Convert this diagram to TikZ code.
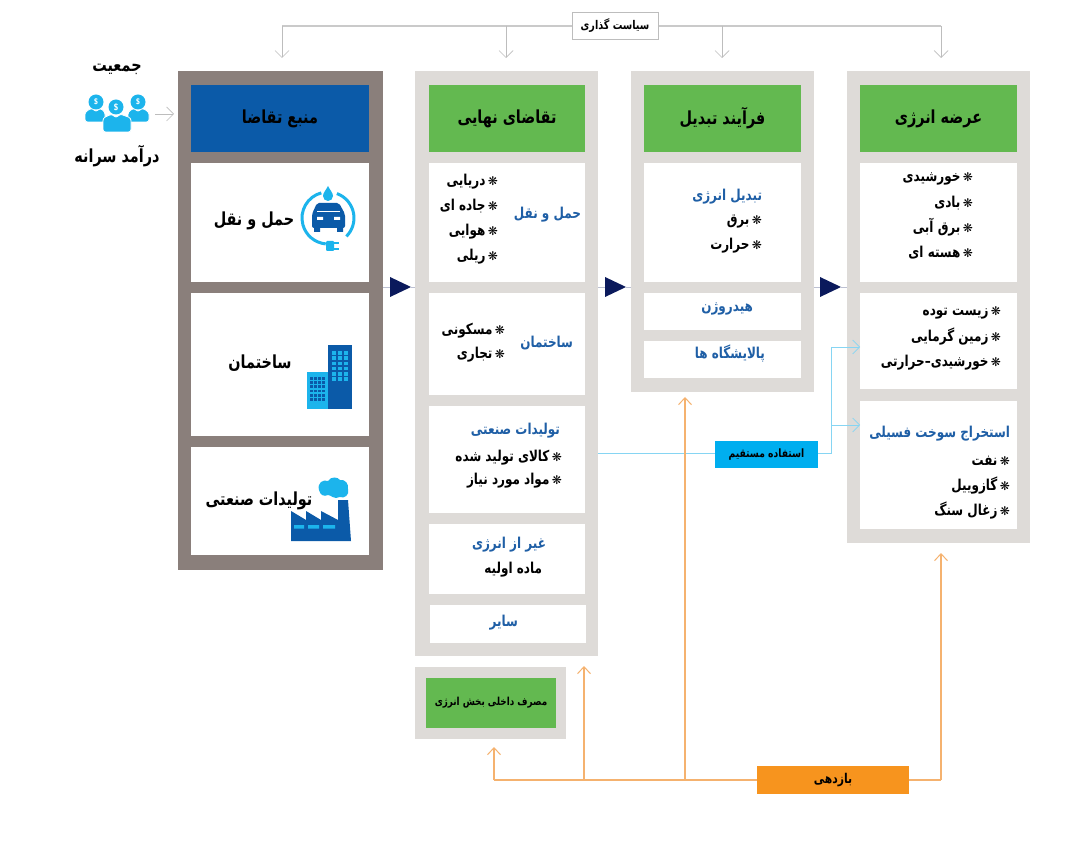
\documentclass[tikz,border=0pt]{standalone}
\usepackage{fontspec}
\usetikzlibrary{arrows.meta,shapes.geometric,calc}
\TeXXeTstate=1
\newfontfamily\arabicfont[Script=Arabic,FakeStretch=0.8]{DejaVu Sans}
\newfontfamily\bulfont{DejaVu Sans}
\definecolor{panelg}{HTML}{DEDBD8}
\definecolor{panelb}{HTML}{8A7F7B}
\definecolor{greenh}{HTML}{63B950}
\definecolor{blueh}{HTML}{0B5AA8}
\definecolor{cyanic}{HTML}{1CB4EC}
\definecolor{bluet}{HTML}{1F5FA6}
\definecolor{bulc}{HTML}{7FB0E0}
\definecolor{orangeb}{HTML}{F7941E}
\definecolor{orangel}{HTML}{F5B26F}
\definecolor{cyanl}{HTML}{86D5F3}
\definecolor{greyl}{HTML}{BDBDBD}
\definecolor{navytri}{HTML}{0B1A5C}
\definecolor{flowl}{HTML}{BCC0D2}
\definecolor{cyanb}{HTML}{00AEEF}
\newcommand\bul{{\bulfont\mdseries\color{bulc}\fontsize{12}{12}\selectfont ❋}\,}
\newcommand\rbox[7]{\node[rct,#2,minimum width={#5pt-#3pt},minimum height={#6pt-#4pt}] (#1) at ({(#3+#5)/2},{(#4+#6)/2}) {#7};}
\newcommand\tline[4]{\node[txt,#3] (#1) at #2 {#4};}
\tikzset{
  rct/.style={inner sep=0pt,outer sep=0pt,align=center},
  txt/.style={inner sep=0pt,outer sep=0pt,anchor=base east,font=\arabicfont\bfseries\fontsize{15}{17}\selectfont,text=black},
  bluetxt/.style={text=bluet},
  head/.style={font=\arabicfont\bfseries\fontsize{18}{20}\selectfont,text=black},
  small/.style={font=\arabicfont\bfseries\fontsize{12}{14}\selectfont,text=black},
  tri/.style={isosceles triangle,isosceles triangle stretches,fill=navytri,minimum width=20pt,minimum height=21pt,inner sep=0pt,outer sep=0pt,anchor=apex},
  policy/.style={draw=greyl,line width=.9pt,-{Straight Barb[length=7pt,width=14pt,line width=.7pt]}},
  policyl/.style={draw=greyl!80,line width=1.2pt},
  eff/.style={draw=orangel,line width=1.1pt},
  effa/.style={eff,-{Straight Barb[length=7pt,width=13pt,line width=1pt]}},
  dir/.style={draw=cyanl,line width=.9pt},
  dira/.style={dir,-{Straight Barb[length=7pt,width=14pt,line width=.7pt]}},
  flow/.style={draw=flowl,line width=.8pt},
}
\begin{document}
\begin{tikzpicture}[x=1pt,y=-1pt]
\useasboundingbox (0,0) rectangle (1080,842);
\fill[white] (0,0) rectangle (1080,842);
% panels
\rbox{p1}{fill=panelb}{178}{71}{383}{570}{}
\rbox{p2}{fill=panelg}{415}{71}{598}{656}{}
\rbox{p3}{fill=panelg}{631}{71}{814}{392}{}
\rbox{p4}{fill=panelg}{847}{71}{1030}{543}{}
\rbox{p5}{fill=panelg}{415}{667}{566}{739}{}
% headers
\rbox{h1}{fill=blueh,head}{191}{85}{369}{152}{\raisebox{3pt}{\beginR منبع تقاضا\endR}}
\rbox{h2}{fill=greenh,head}{429}{85}{585}{152}{\beginR تقاضای نهایی\endR}
\rbox{h3}{fill=greenh,head}{644}{85}{801}{152}{\raisebox{1pt}{\beginR فرآیند تبدیل\endR}}
\rbox{h4}{fill=greenh,head}{860}{85}{1017}{152}{\raisebox{3pt}{\beginR عرضه انرژی\endR}}
\rbox{h5}{fill=greenh,small,font=\arabicfont\bfseries\fontsize{11}{13}\selectfont}{426}{678}{556}{728}{\beginR مصرف داخلی بخش انرژی\endR}
% cells
\rbox{c11}{fill=white}{191}{163}{369}{282}{}
\rbox{c12}{fill=white}{191}{293}{369}{436}{}
\rbox{c13}{fill=white}{191}{447}{369}{555}{}
\rbox{c21}{fill=white}{429}{163}{585}{282}{}
\rbox{c22}{fill=white}{429}{293}{585}{395}{}
\rbox{c23}{fill=white}{429}{406}{585}{513}{}
\rbox{c24}{fill=white}{429}{524}{585}{594}{}
\rbox{c25}{fill=white}{430}{605}{586}{643}{}
\rbox{c31}{fill=white}{644}{163}{801}{282}{}
\rbox{c32}{fill=white}{644}{293}{801}{330}{}
\rbox{c33}{fill=white}{644}{341}{801}{378}{}
\rbox{c41}{fill=white}{860}{163}{1017}{282}{}
\rbox{c42}{fill=white}{860}{293}{1017}{389}{}
\rbox{c43}{fill=white}{860}{401}{1017}{529}{}
% policy connectors
\coordinate (ta1) at (282,58);
\coordinate (ta2) at (506,58);
\coordinate (ta3) at (722,58);
\coordinate (ta4) at (941,58);
\coordinate (pj) at (615,26);
\draw[policyl] (ta1 |- pj) -- (ta4 |- pj);
\draw[policy] (ta1 |- pj) -- (ta1);
\draw[policy] (ta2 |- pj) -- (ta2);
\draw[policy] (ta3 |- pj) -- (ta3);
\draw[policy] (ta4 |- pj) -- (ta4);
% coloured label boxes
\rbox{pol}{fill=white,draw=greyl,line width=.8pt,small}{572}{12}{658}{39}{\beginR سیاست گذاری\endR}
\rbox{dirb}{fill=cyanb,small,font=\arabicfont\bfseries\fontsize{11.5}{13}\selectfont}{715}{441}{818}{468}{\beginR استفاده مستقیم\endR}
\rbox{effb}{fill=orangeb,small,font=\arabicfont\bfseries\fontsize{13.5}{15}\selectfont}{757}{766}{909}{794}{\beginR بازدهی\endR}
% flow connectors and triangles
\node[tri] (t1) at (411,287) {};
\node[tri] (t2) at (626,287) {};
\node[tri] (t3) at (841,287) {};
\draw[flow] (p1.east |- t1.apex) -- (t1.west);
\draw[flow] (t1.apex) -- (p2.west |- t1.apex);
\draw[flow] (p2.east |- t2.apex) -- (t2.west);
\draw[flow] (t2.apex) -- (p3.west |- t2.apex);
\draw[flow] (p3.east |- t3.apex) -- (t3.west);
\draw[flow] (t3.apex) -- (p4.west |- t3.apex);
% direct use
\coordinate (dj) at (831,453);
\coordinate (da1) at (860,347);
\coordinate (da2) at (860,425);
\draw[dir] (p2.east |- dj) -- (dirb.west |- dj);
\draw[dir] (dirb.east |- dj) -- (dj) -- (dj |- da1);
\draw[dira] (dj |- da1) -- (da1);
\draw[dira] (dj |- da2) -- (da2);
% efficiency
\coordinate (ej1) at (494,780);
\coordinate (ej2) at (584,780);
\coordinate (ej3) at (685,780);
\coordinate (ea1) at (494,747);
\coordinate (ea2) at (584,666);
\coordinate (ea3) at (685,397);
\coordinate (ea4) at (941,553);
\draw[eff] (effb.west |- ej1) -- (ej1);
\draw[effa] (ej1) -- (ea1);
\draw[effa] (ej2) -- (ea2);
\draw[effa] (ej3) -- (ea3);
\draw[eff] (effb.east |- ej1) -- (ea4 |- ej1);
\draw[effa] (ea4 |- ej1) -- (ea4);
% population arrow
\coordinate (pa) at (155,114);
\draw[policy] (pa) -- (174,114);
% people icon
\foreach \hx/\hy/\bxl/\bxr/\bt/\bb/\fs in {96/102/85/105/108/122/8,138/102/128/149/108/122/8,116/107/103/131/114/132/9}{
  \fill[cyanic,rounded corners=2.5pt,draw=white,line width=.8pt] (\bxl,\bt+4) -- (\hx-4,\bt) -- (\hx,\bt+4) -- (\hx+4,\bt) -- (\bxr,\bt+4) -- (\bxr,\bb) -- (\bxl,\bb) -- cycle;
  \fill[cyanic] (\hx,\hy) circle (7.5pt);
  \node[inner sep=0pt,text=white,font=\sffamily\bfseries\fontsize{\fs}{\fs}\selectfont] at (\hx,\hy) {\$};
}
% car icon
\draw[cyanic,line width=3pt] (328,218) ++(105:26pt) arc[start angle=105,end angle=265,radius=26pt];
\draw[cyanic,line width=3pt] (328,218) ++(70:26pt) arc[start angle=70,end angle=-45,radius=26pt];
\fill[cyanic] (328,186) .. controls (330,190) and (333,193) .. (333,196) arc[start angle=0,end angle=-180,radius=5pt] .. controls (323,193) and (326,190) .. (328,186) -- cycle;
\fill[cyanic,rounded corners=1pt] (326,241) rectangle (334,251);
\draw[cyanic,line width=1.5pt] (334,243) -- (339,243) (334,249) -- (339,249);
\fill[blueh,rounded corners=2pt] (312,228) -- (312,214) -- (317,203) -- (339,203) -- (345,214) -- (345,228) -- cycle;
\fill[blueh] (314,226) rectangle (320,232) (337,226) rectangle (343,232);
\draw[white,line width=.8pt] (317,211) -- (340,211);
\fill[white] (317,217) rectangle (323,220) (334,217) rectangle (340,220);
% buildings icon
\fill[blueh] (328,345) rectangle (352,409);
\fill[cyanic] (307,372) rectangle (328,409);
\foreach \i in {0,1,2}{\foreach \j in {0,...,5}{
  \fill[cyanic] ({332+\i*6},{351+\j*5.3}) rectangle ++(4.4,3.6);}}
\foreach \i in {0,1,2,3}{\foreach \j in {0,...,5}{
  \fill[blueh] ({310+\i*4},{377+\j*4.2}) rectangle ++(2.7,2.9);}}
% factory icon
\fill[blueh] (291,541) -- (291,511) -- (306,520) -- (306,511) -- (321,520) -- (321,511) -- (338,520) -- (338,500) -- (348,500) -- (351,541) -- cycle;
\fill[cyanic] (294,525) rectangle (304,528.5) (308,525) rectangle (319,528.5) (323,525) rectangle (335,528.5);
\fill[cyanic] (319,490) .. controls (317,483) and (323,479) .. (328,481) .. controls (331,476) and (338,477) .. (340,480) .. controls (345,479) and (349,484) .. (348,489) .. controls (350,495) and (344,499) .. (340,497) .. controls (334,500) and (331,495) .. (328,495) .. controls (324,497) and (320,495) .. (319,490) -- cycle;
% outside labels
\node[rct,head] (lpop) at (117,69) {\beginR جمعیت\endR};
\node[rct,head] (linc) at (117,156) {\beginR درآمد سرانه\endR};
\node[rct,head] (l11) at (254,221) {\beginR حمل و نقل\endR};
\node[rct,head] (l12) at (260,363) {\beginR ساختمان\endR};
\node[rct,head] (l13) at (259,501) {\beginR تولیدات صنعتی\endR};
% column 2
\tline{a1}{(498,186)}{}{\beginR\bul دریایی\endR}
\tline{a2}{(498,211)}{}{\beginR\bul جاده ای\endR}
\tline{a3}{(498,236)}{}{\beginR\bul هوایی\endR}
\tline{a4}{(498,261)}{}{\beginR\bul ریلی\endR}
\tline{a5}{(581,219)}{bluetxt}{\beginR حمل و نقل\endR}
\tline{a6}{(505,335)}{}{\beginR\bul مسکونی\endR}
\tline{a7}{(505,359)}{}{\beginR\bul تجاری\endR}
\tline{a8}{(573,348)}{bluetxt}{\beginR ساختمان\endR}
\tline{a9}{(560,435)}{bluetxt}{\beginR تولیدات صنعتی\endR}
\tline{a10}{(562,461)}{}{\beginR\bul کالای تولید شده\endR}
\tline{a11}{(562,485)}{}{\beginR\bul مواد مورد نیاز\endR}
\tline{a12}{(546,548)}{bluetxt}{\beginR غیر از انرژی\endR}
\tline{a13}{(542,573)}{}{\beginR ماده اولیه\endR}
\tline{a14}{(518,626)}{bluetxt}{\beginR سایر\endR}
% column 3
\tline{b1}{(762,201)}{bluetxt}{\beginR تبدیل انرژی\endR}
\tline{b2}{(762,225)}{}{\beginR\bul برق\endR}
\tline{b3}{(762,250)}{}{\beginR\bul حرارت\endR}
\tline{b4}{(753,312)}{bluetxt}{\beginR هیدروژن\endR}
\tline{b5}{(765,359)}{bluetxt}{\beginR پالایشگاه ها\endR}
% column 4
\tline{d1}{(973,182)}{}{\beginR\bul خورشیدی\endR}
\tline{d2}{(973,208)}{}{\beginR\bul بادی\endR}
\tline{d3}{(973,233)}{}{\beginR\bul برق آبی\endR}
\tline{d4}{(973,258)}{}{\beginR\bul هسته ای\endR}
\tline{d5}{(1001,316)}{}{\beginR\bul زیست توده\endR}
\tline{d6}{(1001,342)}{}{\beginR\bul زمین گرمایی\endR}
\tline{d7}{(1001,367)}{}{\beginR\bul خورشیدی–حرارتی\endR}
\tline{d8}{(1010,438)}{bluetxt}{\beginR استخراج سوخت فسیلی\endR}
\tline{d9}{(1010,465)}{}{\beginR\bul نفت\endR}
\tline{d10}{(1010,490)}{}{\beginR\bul گازوییل\endR}
\tline{d11}{(1010,515)}{}{\beginR\bul زغال سنگ\endR}
\end{tikzpicture}
\end{document}
